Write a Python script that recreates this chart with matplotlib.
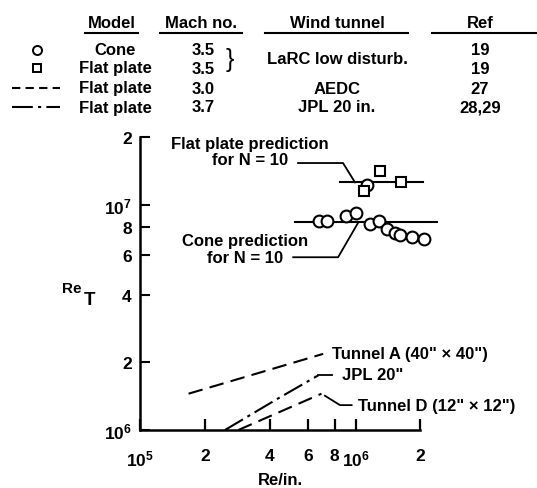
import matplotlib
matplotlib.use("Agg")
import matplotlib.pyplot as plt
from matplotlib.ticker import FixedLocator, FixedFormatter, NullLocator

plt.rcParams['font.family'] = ['Liberation Sans', 'DejaVu Sans']
plt.rcParams['font.weight'] = 'bold'
plt.rcParams['axes.labelweight'] = 'bold'
plt.rcParams['mathtext.default'] = 'regular'

# --- data ---
CONE_X = [6.79e5, 7.35e5, 9.03e5, 1.00e6, 1.13e6, 1.17e6, 1.28e6, 1.40e6, 1.53e6, 1.61e6, 1.82e6, 2.07e6]
CONE_Y = [8.5e6, 8.5e6, 8.96e6, 9.2e6, 1.23e7, 8.24e6, 8.5e6, 7.82e6, 7.5e6, 7.36e6, 7.18e6, 7.06e6]
PLATE_X = [1.09e6, 1.30e6, 1.63e6]
PLATE_Y = [1.16e7, 1.41e7, 1.27e7]

CONE_PRED_X = [5.24e5, 2.38e6]
CONE_PRED_Y = [8.37e6, 8.37e6]
PLATE_PRED_X = [8.47e5, 2.06e6]
PLATE_PRED_Y = [1.26e7, 1.26e7]

TUNNEL_A_X = [1.68e5, 7.08e5]
TUNNEL_A_Y = [1.45e6, 2.18e6]
JPL_X = [2.48e5, 4.31e5, 6.72e5]
JPL_Y = [1.0e6, 1.37e6, 1.75e6]
TUNNEL_D_X = [2.86e5, 6.95e5]
TUNNEL_D_Y = [1.0e6, 1.45e6]

XTICKS = [1e5, 2e5, 4e5, 6e5, 8e5, 1e6, 2e6]
XTICKLABELS = ['$10^5$', '2', '4', '6', '8', '$10^6$', '2']
YTICKS = [1e6, 2e6, 4e6, 6e6, 8e6, 1e7, 2e7]
YTICKLABELS = ['$10^6$', '2', '4', '6', '8', '$10^7$', '2']

# table above the plot
HEADERS = ['Model', 'Mach no.', 'Wind tunnel', 'Ref']
MODELS = ['Cone', 'Flat plate', 'Flat plate', 'Flat plate']
MACH = ['3.5', '3.5', '3.0', '3.7']
TUNNELS = ['LaRC low disturb.', 'AEDC', 'JPL 20 in.']
REFS = ['19', '19', '27', '28,29']

W, H = 537, 489
FS = 12


def fx(x):
    return x / W


def fy(y):
    return 1 - y / H


fig = plt.figure(figsize=(W / 100, H / 100), dpi=100)
ax = fig.add_axes([fx(140), fy(431), 280.4 / W, 292.7 / H])
ax.set_xscale('log'); ax.set_yscale('log')
ax.set_xlim(1e5, 2e6); ax.set_ylim(1e6, 2e7)

lw = 1.5
ax.plot(CONE_PRED_X, CONE_PRED_Y, '-', color='black', lw=lw, clip_on=False)
ax.plot(PLATE_PRED_X, PLATE_PRED_Y, '-', color='black', lw=lw, clip_on=False)
ax.plot(CONE_X, CONE_Y, 'o', mfc='white', mec='black', mew=1.5, ms=8.5, clip_on=False, zorder=3)
ax.plot(PLATE_X, PLATE_Y, 's', mfc='white', mec='black', mew=1.5, ms=7, clip_on=False, zorder=4)
ax.plot(TUNNEL_A_X, TUNNEL_A_Y, color='black', lw=lw, dashes=(7, 3.5))
ax.plot(JPL_X, JPL_Y, color='black', lw=lw, dashes=(10, 2.5, 1.5, 2.5))
ax.plot(TUNNEL_D_X, TUNNEL_D_Y, color='black', lw=lw, dashes=(7, 3.5))

# leaders and labels
kw = dict(color='black', lw=1.3, clip_on=False)
ax.plot([5.41e5, 8.75e5, 9.95e5], [1.537e7, 1.537e7, PLATE_PRED_Y[0]], **kw)
ax.text(3.24e5, 1.73e7, 'Flat plate prediction\nfor N = 10', ha='center', va='center',
        fontsize=FS, multialignment='center', linespacing=1.1)
ax.plot([5.14e5, 8.30e5, 1.03e6], [5.86e6, 5.86e6, CONE_PRED_Y[0]], **kw)
ax.text(3.07e5, 6.37e6, 'Cone prediction\nfor N = 10', ha='center', va='center',
        fontsize=FS, multialignment='center', linespacing=1.1)

ax.text(7.78e5, 2.18e6, 'Tunnel A (40" \u00d7 40")', ha='left', va='center', fontsize=FS)
ax.plot([JPL_X[-1], 7.76e5], [JPL_Y[-1], JPL_Y[-1]], **kw)
ax.text(8.63e5, 1.76e6, 'JPL 20"', ha='left', va='center', fontsize=FS)
ax.plot([7.21e5, 8.47e5, 9.59e5], [1.42e6, 1.29e6, 1.29e6], **kw)
ax.text(1.03e6, 1.29e6, 'Tunnel D (12" \u00d7 12")', ha='left', va='center', fontsize=FS)

# axes styling
for s in ('top', 'right'):
    ax.spines[s].set_visible(False)
for s in ('left', 'bottom'):
    ax.spines[s].set_linewidth(1.8)
ax.xaxis.set_major_locator(FixedLocator(XTICKS))
ax.xaxis.set_major_formatter(FixedFormatter(XTICKLABELS))
ax.yaxis.set_major_locator(FixedLocator(YTICKS))
ax.yaxis.set_major_formatter(FixedFormatter(YTICKLABELS))
ax.xaxis.set_minor_locator(NullLocator())
ax.yaxis.set_minor_locator(NullLocator())
ax.tick_params(axis='x', which='major', bottom=True, direction='in', length=8, width=1.6,
               labelsize=FS + 0.5, pad=13)
ax.tick_params(axis='y', which='major', left=True, direction='in', length=7, width=1.5,
               labelsize=FS + 0.5, pad=6)
ax.set_xlabel('Re/in.', fontsize=FS, labelpad=3)

fig.text(fx(72), fy(289), 'Re', fontsize=FS - 1, ha='center', va='center')
fig.text(fx(90), fy(301), 'T', fontsize=FS + 1.5, ha='center', va='center')

# table
hx = [112, 201, 337, 480]
ul = [(85, 138), (160, 242), (265, 408), (432, 537)]
for h, x, (a, b) in zip(HEADERS, hx, ul):
    fig.text(fx(x), fy(23), h, fontsize=FS, ha='center', va='center')
    fig.add_artist(plt.Line2D([fx(a), fx(b)], [fy(33.5), fy(33.5)], color='black', lw=1.5))

rows = [51, 69, 89, 108]
for y, m, mach, r in zip(rows, MODELS, MACH, REFS):
    fig.text(fx(115), fy(y), m, fontsize=FS, ha='center', va='center')
    fig.text(fx(203), fy(y), mach, fontsize=FS, ha='center', va='center')
    fig.text(fx(480), fy(y), r, fontsize=FS, ha='center', va='center')
fig.text(fx(230), fy(60), '}', fontsize=FS + 6, fontweight='normal', ha='center', va='center')
fig.text(fx(337), fy(60), TUNNELS[0], fontsize=FS, ha='center', va='center')
fig.text(fx(337), fy(rows[2]), TUNNELS[1], fontsize=FS, ha='center', va='center')
fig.text(fx(337), fy(rows[3]), TUNNELS[2], fontsize=FS, ha='center', va='center')

fig.add_artist(plt.Line2D([fx(37)], [fy(rows[0])], marker='o', mfc='white', mec='black', mew=1.4, ms=6.5))
fig.add_artist(plt.Line2D([fx(37)], [fy(rows[1])], marker='s', mfc='white', mec='black', mew=1.4, ms=6))
fig.add_artist(plt.Line2D([fx(12), fx(60)], [fy(rows[2])] * 2, color='black', lw=1.5, dashes=(4, 2.5)))
fig.add_artist(plt.Line2D([fx(12), fx(60)], [fy(rows[3])] * 2, color='black', lw=1.5, dashes=(10, 2.5, 1.5, 2.5)))

fig.savefig('out.png', dpi=100)
